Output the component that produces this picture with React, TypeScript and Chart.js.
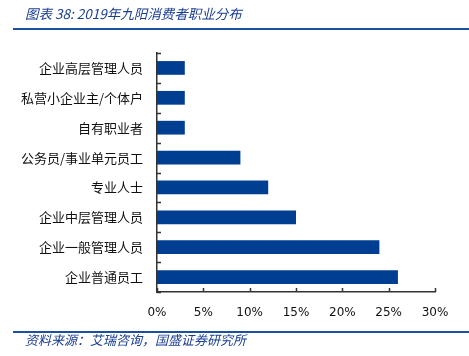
import React, { useEffect, useRef } from "react";
import { Chart, registerables } from "chart.js";

Chart.register(...registerables);

const categories = [
  "企业高层管理人员",
  "私营小企业主/个体户",
  "自有职业者",
  "公务员/事业单元员工",
  "专业人士",
  "企业中层管理人员",
  "企业一般管理人员",
  "企业普通员工",
];
const shares = [3, 3, 3, 9, 12, 15, 24, 26];
const xTicks = [0, 5, 10, 15, 20, 25, 30];
const titleText = "图表 38: 2019年九阳消费者职业分布";
const sourceText = "资料来源：艾瑞咨询，国盛证券研究所";

const BLUE = "#003e92";
const AXIS = "#333333";

const innerTicks = {
  id: "innerTicks",
  afterDraw(chart: any) {
    const { ctx, chartArea, scales } = chart;
    const x = scales.x;
    ctx.save();
    ctx.strokeStyle = AXIS;
    ctx.lineWidth = 1.5;
    ctx.beginPath();
    xTicks.forEach((v) => {
      const px = Math.round(x.getPixelForValue(v)) + 0.5;
      ctx.moveTo(px, chartArea.bottom);
      ctx.lineTo(px, chartArea.bottom - 4);
    });
    const n = categories.length;
    const h = (chartArea.bottom - chartArea.top) / n;
    for (let i = 0; i <= n; i++) {
      const py = Math.round(chartArea.top + i * h) + 0.5;
      ctx.moveTo(chartArea.left, py);
      ctx.lineTo(chartArea.left + 4, py);
    }
    ctx.stroke();
    ctx.restore();
  },
};

export default function App() {
  const ref = useRef<HTMLCanvasElement>(null);
  useEffect(() => {
    const chart = new Chart(ref.current!, {
      type: "bar",
      data: {
        labels: categories,
        datasets: [
          {
            data: shares,
            backgroundColor: BLUE,
            barPercentage: 0.46,
            categoryPercentage: 1,
          },
        ],
      },
      options: {
        indexAxis: "y",
        animation: false,
        responsive: false,
        maintainAspectRatio: false,
        layout: { padding: { top: 53, right: 34, bottom: 34, left: 0 } },
        plugins: { legend: { display: false }, tooltip: { enabled: false } },
        scales: {
          x: {
            min: 0,
            max: 30,
            afterBuildTicks: (s: any) => {
              s.ticks = xTicks.map((v) => ({ value: v }));
            },
            afterFit: (s: any) => {
              s.height = 30;
            },
            grid: { display: false, drawTicks: false },
            border: { display: true, color: AXIS, width: 1.5 },
            ticks: {
              padding: 14,
              color: "#111",
              font: { family: "DejaVu Sans", size: 12 },
              callback: (v: any) => v + "%",
              maxRotation: 0,
            },
          },
          y: {
            afterFit: (s: any) => {
              s.width = 157;
            },
            grid: { display: false, drawTicks: false },
            border: { display: true, color: AXIS, width: 1.5 },
            ticks: {
              padding: 14,
              color: "#111",
              font: { family: "Noto Sans CJK SC", size: 13 },
            },
          },
        },
      },
      plugins: [innerTicks],
    });
    return () => chart.destroy();
  }, []);

  return (
    <div style={{ position: "absolute", left: 0, top: 0, width: 469, height: 356, background: "#fff", overflow: "hidden" }}>
      <canvas ref={ref} width={469} height={356} style={{ position: "absolute", left: 0, top: 0 }} />
      <div
        style={{
          position: "absolute",
          left: 25,
          top: 3,
          fontFamily: "'Noto Sans CJK SC', 'DejaVu Sans', sans-serif",
          fontStyle: "italic",
          fontSize: 13.5,
          lineHeight: "20px",
          color: "#1b3f8f",
          whiteSpace: "nowrap",
        }}
      >
        {titleText}
      </div>
      <div style={{ position: "absolute", left: 13, top: 28, width: 456, height: 1.5, background: "#1b4fa0" }} />
      <div style={{ position: "absolute", left: 13, top: 331, width: 456, height: 1.5, background: "#1b4fa0" }} />
      <div
        style={{
          position: "absolute",
          left: 25,
          top: 332,
          fontFamily: "'Noto Sans CJK SC', sans-serif",
          fontStyle: "italic",
          fontSize: 13,
          lineHeight: "16px",
          color: "#1b3f8f",
          whiteSpace: "nowrap",
        }}
      >
        {sourceText}
      </div>
    </div>
  );
}
